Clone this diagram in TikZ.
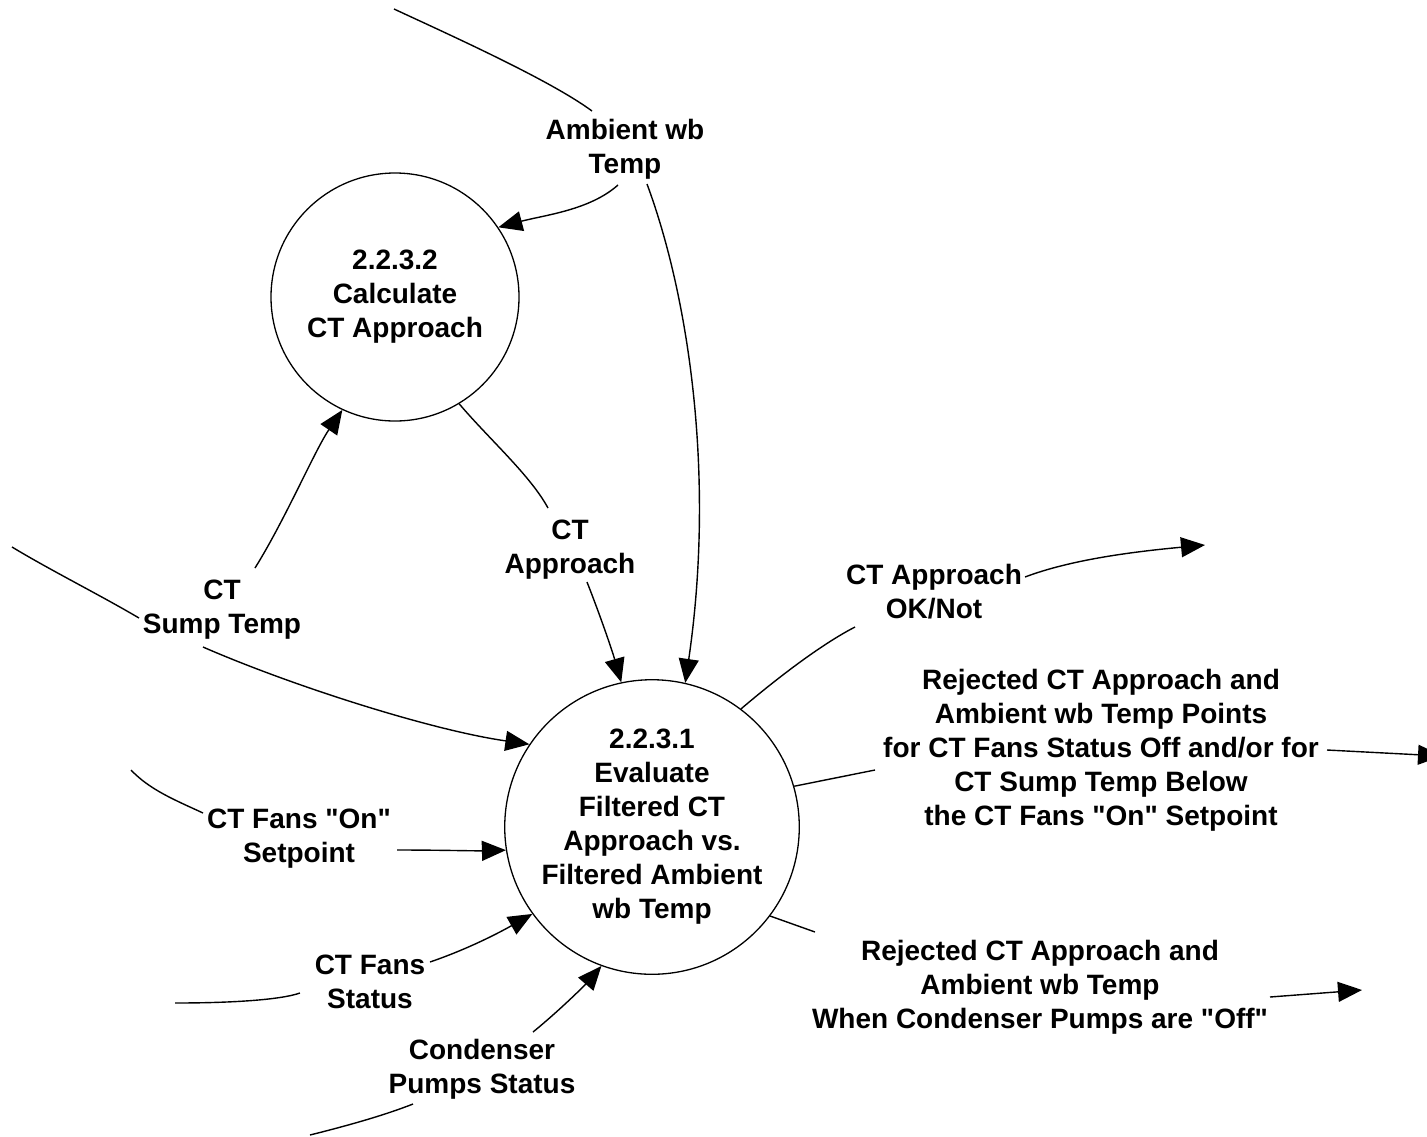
\documentclass[tikz,border=0pt]{standalone}
\usepackage{fontspec}
\setmainfont{Liberation Sans}[Ligatures=TeXOff]
\usetikzlibrary{arrows.meta}
\begin{document}
\begin{tikzpicture}[x=1pt,y=-1pt,
  proc/.style={circle,draw,line width=1.3pt,inner sep=0pt},
  lbl/.style={align=center,inner sep=0pt,font=\bfseries\fontsize{28}{34}\selectfont},
  flow/.style={line width=1.4pt},
  arr/.style={flow,-{Triangle[length=24pt,width=20pt]}}]
\useasboundingbox[fill=white] (0,0) rectangle (1427,1136);
% processes
\node[proc,minimum size=248pt,lbl] (c2) at (395,297) {2.2.3.2\\Calculate\\CT Approach};
\node[proc,minimum size=282pt,lbl] (c1) at (652,827) {2.2.3.1\\Evaluate\\Filtered CT\\Approach vs.\\Filtered Ambient\\wb Temp};
% labels
\node[lbl] (amb) at (625,149) {Ambient wb\\Temp};
\node[lbl] (sump) at (222,610) {CT\\Sump Temp};
\node[lbl] (setp) at (299,839) {CT Fans "On"\\Setpoint};
\node[lbl] (fans) at (370,982) {CT Fans\\Status};
\node[lbl] (cond) at (482,1069) {Condenser\\Pumps Status};
\node[lbl] (app) at (570,550) {CT\\Approach};
\node[lbl] (ok) at (934,592) {CT Approach\\OK/Not};
\node[lbl] (rejp) at (1101,750) {Rejected CT Approach and\\Ambient wb Temp Points\\for CT Fans Status Off and/or for\\CT Sump Temp Below\\the CT Fans "On" Setpoint};
\node[lbl] (rejo) at (1040,987) {Rejected CT Approach and\\Ambient wb Temp\\When Condenser Pumps are "Off"};
% free ends
\coordinate (ambSrc) at (394,9);
\coordinate (ambIn) at (592,111);
\coordinate (ambA) at (618,185);
\coordinate (ambB) at (647,184);
\coordinate (sumpUp) at (255,568);
\coordinate (sumpSrc) at (12,547);
\coordinate (sumpIn) at (139,618);
\coordinate (sumpOut) at (203,647);
\coordinate (setSrc) at (131,770);
\coordinate (setIn) at (203,813);
\coordinate (setOut) at (397,850);
\coordinate (fansOut) at (430,962);
\coordinate (fansSrc) at (175,1003);
\coordinate (fansIn) at (300,993);
\coordinate (condOut) at (533,1032);
\coordinate (condSrc) at (310,1135);
\coordinate (condIn) at (413,1104);
\coordinate (appIn) at (548,508);
\coordinate (appOut) at (587,582);
\coordinate (okIn) at (855,627);
\coordinate (okOut) at (1025,577);
\coordinate (okDst) at (1205,545);
\coordinate (rpIn) at (875,770);
\coordinate (rpOut) at (1327,750);
\coordinate (rpDst) at (1442,756);
\coordinate (roIn) at (815,932);
\coordinate (roOut) at (1270,997);
\coordinate (roDst) at (1362,990);
% Ambient wb Temp
\draw[flow] (ambSrc) .. controls (450,35) and (550,80) .. (ambIn);
\draw[arr] (ambA) .. controls (590,210) and (545,215) .. (c2.34);
\draw[arr] (ambB) .. controls (690,300) and (715,480) .. (c1.77);
% CT Sump Temp
\draw[arr] (sumpUp) .. controls (285,520) and (315,450) .. (c2.245);
\draw[flow] (sumpSrc) .. controls (50,570) and (100,595) .. (sumpIn);
\draw[arr] (sumpOut) .. controls (290,685) and (430,730) .. (c1.146);
% CT Fans On Setpoint
\draw[flow] (setSrc) .. controls (150,790) and (175,800) .. (setIn);
\draw[arr] (setOut) .. controls (440,850) and (475,851) .. (c1.189);
% CT Fans Status
\draw[arr] (fansOut) .. controls (465,950) and (495,935) .. (c1.216);
\draw[flow] (fansSrc) .. controls (230,1003) and (280,1000) .. (fansIn);
% Condenser Pumps Status
\draw[arr] (condOut) .. controls (560,1010) and (585,985) .. (c1.250);
\draw[flow] (condSrc) .. controls (350,1125) and (385,1115) .. (condIn);
% CT Approach
\draw[flow] (c2.301) .. controls (490,440) and (530,475) .. (appIn);
\draw[arr] (appOut) .. controls (600,615) and (612,650) .. (c1.102);
% CT Approach OK/Not
\draw[flow] (c1.53) .. controls (775,680) and (820,645) .. (okIn);
\draw[arr] (okOut) .. controls (1070,560) and (1130,552) .. (okDst);
% Rejected points
\draw[flow] (c1.16) -- (rpIn);
\draw[arr] (rpOut) -- (rpDst);
% Rejected off
\draw[flow] (c1.323) -- (roIn);
\draw[arr] (roOut) -- (roDst);
\end{tikzpicture}
\end{document}
